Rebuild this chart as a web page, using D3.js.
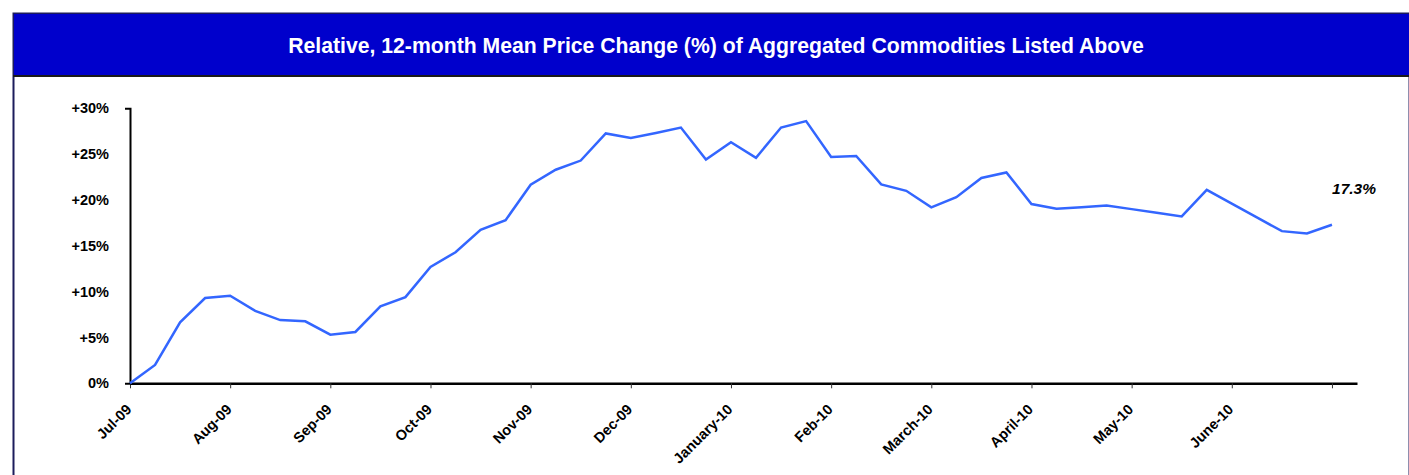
<!DOCTYPE html>
<html>
<head>
<meta charset="utf-8">
<script src="https://cdn.jsdelivr.net/npm/d3@7"></script>
<style>
  body { margin: 0; background: #fff; }
  svg { display: block; font-family: Arial, "Liberation Sans", sans-serif; }
</style>
</head>
<body>
<div id="chart"></div>
<script>

var sTitle = "Relative, 12-month Mean Price Change (%) of Aggregated Commodities Listed Above";

// one point per week, 4 per month
var aValues = [
    0, 2.0, 6.65, 9.3, 9.55, 7.9, 6.9, 6.76,
    5.3, 5.6, 8.4, 9.4, 12.7, 14.3, 16.75, 17.8,
    21.66, 23.3, 24.3, 27.26, 26.75, 27.3, 27.9, 24.4,
    26.3, 24.6, 27.9, 28.6, 24.7, 24.8, 21.7, 21.0,
    19.2, 20.3, 22.4, 23.0, 19.55, 19.05, 19.2, 19.4,
    19.0, 18.6, 18.2, 21.1, 19.6, 18.1, 16.6, 16.35,
    17.3
];

var aMonthLabels = ["Jul-09", "Aug-09", "Sep-09", "Oct-09", "Nov-09", "Dec-09",
    "January-10", "Feb-10", "March-10", "April-10", "May-10", "June-10", ""];

var aYTicks = [0, 5, 10, 15, 20, 25, 30];
var sEndLabel = "17.3%";

var W = 1409, H = 475;

var svg = d3.select("#chart").append("svg")
    .attr("width", W)
    .attr("height", H);

// frame + title bar
svg.append("rect")
    .attr("x", 13.5).attr("y", 13.5)
    .attr("width", W - 13).attr("height", H)
    .attr("fill", "#fff")
    .attr("stroke", "#1c1c5c")
    .attr("stroke-width", 2);

svg.append("rect")
    .attr("x", 14).attr("y", 14)
    .attr("width", W - 14).attr("height", 62)
    .attr("fill", "#0000cc");

svg.append("line")
    .attr("x1", 13).attr("x2", W)
    .attr("y1", 76).attr("y2", 76)
    .attr("stroke", "#1a1a1a")
    .attr("stroke-width", 2);

svg.append("text")
    .text(sTitle)
    .attr("x", 716)
    .attr("y", 53)
    .attr("text-anchor", "middle")
    .attr("font-size", "21.2px")
    .attr("font-weight", "bold")
    .attr("fill", "#fff");

// plot area
var pLeft = 130, pRight = 1357, pTop = 108.3, pBottom = 383.3;

var x = d3.scaleLinear()
    .domain([0, 49])
    .range([pLeft, pRight]);

var y = d3.scaleLinear()
    .domain([0, 30])
    .range([pBottom, pTop]);

var tickIdx = aMonthLabels.map(function(d, i){ return i * 4; });

var gx = svg.append("g")
    .attr("transform", "translate(0," + pBottom + ")")
    .call(d3.axisBottom(x)
        .tickValues(tickIdx)
        .tickSizeInner(5)
        .tickSizeOuter(0)
        .tickFormat(function(d){ return aMonthLabels[d / 4]; }));

gx.select(".domain").attr("stroke", "#000").attr("stroke-width", 2.5);
gx.selectAll(".tick line").attr("stroke", "#333").attr("stroke-width", 1);
gx.selectAll(".tick text")
    .attr("font-size", "14.5px")
    .attr("font-weight", "bold")
    .attr("fill", "#000")
    .attr("text-anchor", "end")
    .attr("y", 0)
    .attr("dy", 0)
    .attr("transform", "translate(2,27) rotate(-45)");

var gy = svg.append("g")
    .attr("transform", "translate(" + pLeft + ",0)")
    .call(d3.axisLeft(y)
        .tickValues(aYTicks)
        .tickSizeInner(0)
        .tickSizeOuter(5)
        .tickPadding(21)
        .tickFormat(function(d){ return d === 0 ? "0%" : "+" + d + "%"; }));

gy.select(".domain").attr("stroke", "#000").attr("stroke-width", 2);
gy.selectAll(".tick text")
    .attr("font-size", "14.5px")
    .attr("font-weight", "bold")
    .attr("fill", "#000");

// series
var line = d3.line()
    .x(function(d, i){ return x(i); })
    .y(function(d){ return y(d); });

svg.append("path")
    .datum(aValues)
    .attr("d", line)
    .attr("fill", "none")
    .attr("stroke", "#3366ff")
    .attr("stroke-width", 2.5);

svg.append("text")
    .text(sEndLabel)
    .attr("x", 1376)
    .attr("y", 194)
    .attr("text-anchor", "end")
    .attr("font-size", "15.5px")
    .attr("font-weight", "bold")
    .attr("font-style", "italic")
    .attr("fill", "#000");

</script>
</body>
</html>
